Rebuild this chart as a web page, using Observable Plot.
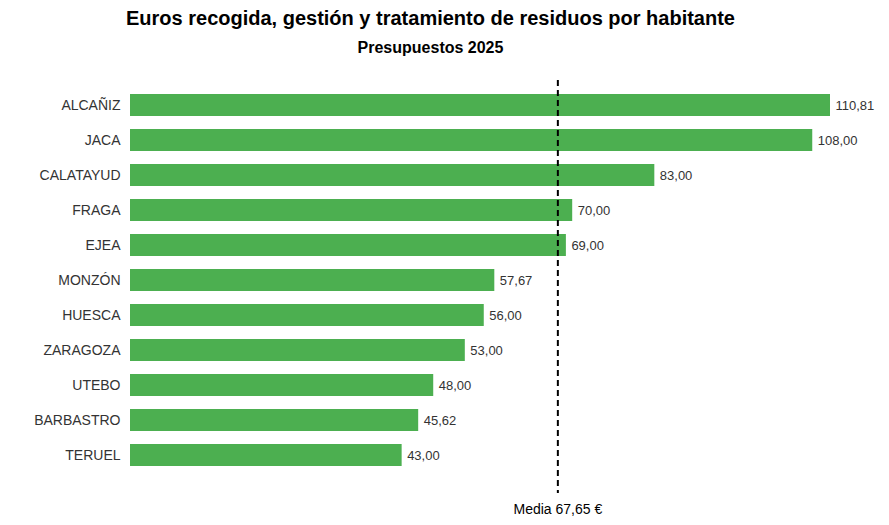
<!DOCTYPE html>
<html>
<head>
<meta charset="utf-8">
<script src="https://cdn.jsdelivr.net/npm/d3@7"></script>
<script src="https://cdn.jsdelivr.net/npm/@observablehq/plot@0.6"></script>
<style>
  html, body { margin: 0; padding: 0; background: #fff; }
  body { width: 889px; height: 525px; overflow: hidden; font-family: "Liberation Sans", Arial, sans-serif; }
  #title { height: 36px; line-height: 36px; text-align: center; font-weight: bold; font-size: 20px; color: #000; padding-right: 28px; }
  #subtitle { height: 24px; line-height: 24px; text-align: center; font-weight: bold; font-size: 16px; color: #000; padding-right: 28px; }
  #spacer { height: 10px; }
</style>
</head>
<body>
<div id="title">Euros recogida, gestión y tratamiento de residuos por habitante</div>
<div id="subtitle">Presupuestos 2025</div>
<div id="spacer"></div>
<div id="chart"></div>
<script>
const municipios = ["ALCAÑIZ", "JACA", "CALATAYUD", "FRAGA", "EJEA", "MONZÓN", "HUESCA", "ZARAGOZA", "UTEBO", "BARBASTRO", "TERUEL"];
const euros = [110.81, 108.00, 83.00, 70.00, 69.00, 57.67, 56.00, 53.00, 48.00, 45.62, 43.00];
const media = 67.65;

const data = municipios.map((m, i) => ({municipio: m, valor: euros[i]}));
const fmt = v => v.toFixed(2).replace(".", ",");

const chart = Plot.plot({
  width: 889,
  height: 455,
  marginLeft: 130,
  marginRight: 59,
  marginTop: 11,
  marginBottom: 46,
  style: { fontFamily: "'Liberation Sans', Arial, sans-serif", background: "#fff" },
  x: { domain: [0, 110.81], axis: null },
  y: { domain: municipios, padding: 0.37, label: null, tickSize: 0, tickPadding: 10 },
  marks: [
    Plot.barX(data, { x: "valor", y: "municipio", fill: "#4CAF50" }),
    Plot.text(data, { x: "valor", y: "municipio", text: d => fmt(d.valor), textAnchor: "start", dx: 5, fill: "#333", fontSize: 13 }),
    Plot.ruleX([media], { stroke: "#000", strokeWidth: 2, strokeDasharray: "6,4", insetTop: -1, insetBottom: -14 }),
    Plot.text([media], { x: d => d, text: d => "Media " + fmt(d) + " €", frameAnchor: "bottom", dy: 34, fill: "#000", fontSize: 14 }),
    Plot.axisY({ tickSize: 0, tickPadding: 10, fontSize: 14, fill: "#333", label: null })
  ]
});
document.getElementById("chart").appendChild(chart);
</script>
</body>
</html>
